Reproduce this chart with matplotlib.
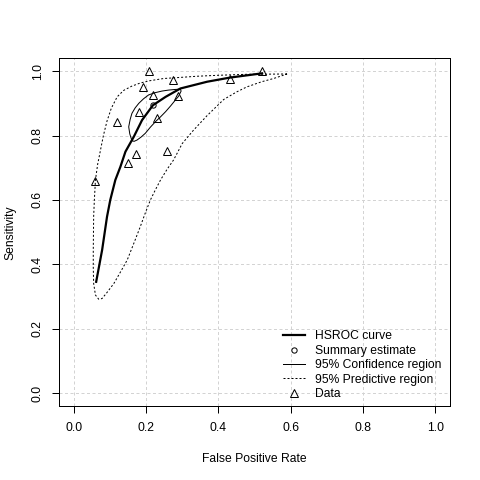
import numpy as np
import matplotlib
matplotlib.use("Agg")
from matplotlib import pyplot as plt
from matplotlib.lines import Line2D

plt.rcParams["font.family"] = ["Liberation Sans", "DejaVu Sans"]

# study data (false positive rate, sensitivity)
data_fpr  = [0.209, 0.274, 0.191, 0.433, 0.521, 0.220, 0.289, 0.180, 0.121, 0.229, 0.171, 0.257, 0.149, 0.059]
data_sens = [1.000, 0.972, 0.951, 0.977, 1.000, 0.926, 0.922, 0.874, 0.842, 0.853, 0.742, 0.752, 0.714, 0.659]

# HSROC curve
hsroc_fpr  = [0.062, 0.0785, 0.092, 0.101, 0.115, 0.129, 0.143, 0.166, 0.189, 0.219, 0.254, 0.295, 0.369, 0.433, 0.521]
hsroc_sens = [0.346, 0.445, 0.548, 0.600, 0.662, 0.703, 0.750, 0.796, 0.848, 0.894, 0.920, 0.946, 0.967, 0.980, 0.993]

# summary estimate
summary_fpr = [0.219]
summary_sens = [0.894]

# 95% confidence region
conf_fpr  = [0.161, 0.155, 0.152, 0.156, 0.161, 0.170, 0.180, 0.193, 0.207, 0.225, 0.244, 0.262, 0.281, 0.295,
             0.297, 0.290, 0.281, 0.268, 0.254, 0.240, 0.226, 0.212, 0.198, 0.186, 0.175, 0.167, 0.161]
conf_sens = [0.784, 0.805, 0.827, 0.850, 0.869, 0.886, 0.900, 0.914, 0.926, 0.933, 0.938, 0.941, 0.943, 0.944,
             0.938, 0.922, 0.910, 0.892, 0.874, 0.858, 0.843, 0.826, 0.807, 0.795, 0.786, 0.782, 0.784]

# 95% predictive region
pred_fpr  = [0.590, 0.479, 0.400, 0.341, 0.290, 0.249, 0.210, 0.184, 0.160, 0.138, 0.120, 0.104, 0.092, 0.082,
             0.074, 0.066, 0.060, 0.057, 0.055, 0.054, 0.054, 0.055, 0.060, 0.069, 0.078, 0.090, 0.111, 0.130,
             0.148, 0.166, 0.184, 0.198, 0.212, 0.226, 0.240, 0.258, 0.276, 0.286, 0.300, 0.330, 0.369, 0.415,
             0.450, 0.479, 0.520, 0.553, 0.590]
pred_sens = [0.991, 0.990, 0.987, 0.984, 0.980, 0.977, 0.970, 0.963, 0.953, 0.940, 0.920, 0.885, 0.845, 0.800,
             0.755, 0.710, 0.662, 0.600, 0.548, 0.445, 0.390, 0.341, 0.305, 0.292, 0.294, 0.310, 0.341, 0.378,
             0.414, 0.465, 0.517, 0.560, 0.600, 0.632, 0.662, 0.695, 0.724, 0.745, 0.775, 0.815, 0.862, 0.912,
             0.935, 0.951, 0.967, 0.977, 0.991]

ticks = [0.0, 0.2, 0.4, 0.6, 0.8, 1.0]
fs = 8.7
grid_ls = (0, (3, 2.5))
dotted = (0, (2, 2))

fig = plt.figure(figsize=(4.8, 4.8), dpi=100)
ax = fig.add_axes([59.3 / 480, 1 - 406.2 / 480, 390.4 / 480, 348.0 / 480])

for t in ticks:
    ax.axvline(t, color="#d3d3d3", lw=0.72, ls=grid_ls, zorder=0)
    ax.axhline(t, color="#d3d3d3", lw=0.72, ls=grid_ls, zorder=0)

ax.plot(hsroc_fpr, hsroc_sens, color="black", lw=1.6)
ax.plot(conf_fpr, conf_sens, color="black", lw=0.72)
ax.plot(pred_fpr, pred_sens, color="black", lw=0.72, ls=dotted)
ax.plot(summary_fpr, summary_sens, "o", mfc="none", mec="black", ms=3.8, mew=0.72)
ax.plot(data_fpr, data_sens, "^", mfc="none", mec="black", ms=6.3, mew=0.72)

ax.set_xlim(-0.04, 1.04)
ax.set_ylim(-0.04, 1.04)
ax.set_xticks(ticks)
ax.set_yticks(ticks)
ax.set_xticklabels(["%.1f" % t for t in ticks], fontsize=fs)
ax.set_yticklabels(["%.1f" % t for t in ticks], fontsize=fs, rotation=90, va="center")
ax.tick_params(length=5.2, width=0.72, pad=6)
for s in ax.spines.values():
    s.set_linewidth(0.72)

ax.set_xlabel("False Positive Rate", fontsize=fs, labelpad=14)
ax.set_ylabel("Sensitivity", fontsize=fs, labelpad=11)

handles = [
    Line2D([], [], color="black", lw=1.6),
    Line2D([], [], ls="none", marker="o", mfc="none", mec="black", ms=3.8, mew=0.72),
    Line2D([], [], color="black", lw=0.72),
    Line2D([], [], color="black", lw=0.72, ls=dotted),
    Line2D([], [], ls="none", marker="^", mfc="none", mec="black", ms=6.0, mew=0.72),
]
labels = ["HSROC curve", "Summary estimate", "95% Confidence region", "95% Predictive region", "Data"]
fig.legend(handles, labels, loc="lower left", bbox_to_anchor=(282.7 / 480, 1 - 400 / 480),
           frameon=False, fontsize=fs, handlelength=1.86, handletextpad=0.83,
           labelspacing=0.2, borderpad=0, borderaxespad=0)

fig.savefig("out.png", dpi=100)
